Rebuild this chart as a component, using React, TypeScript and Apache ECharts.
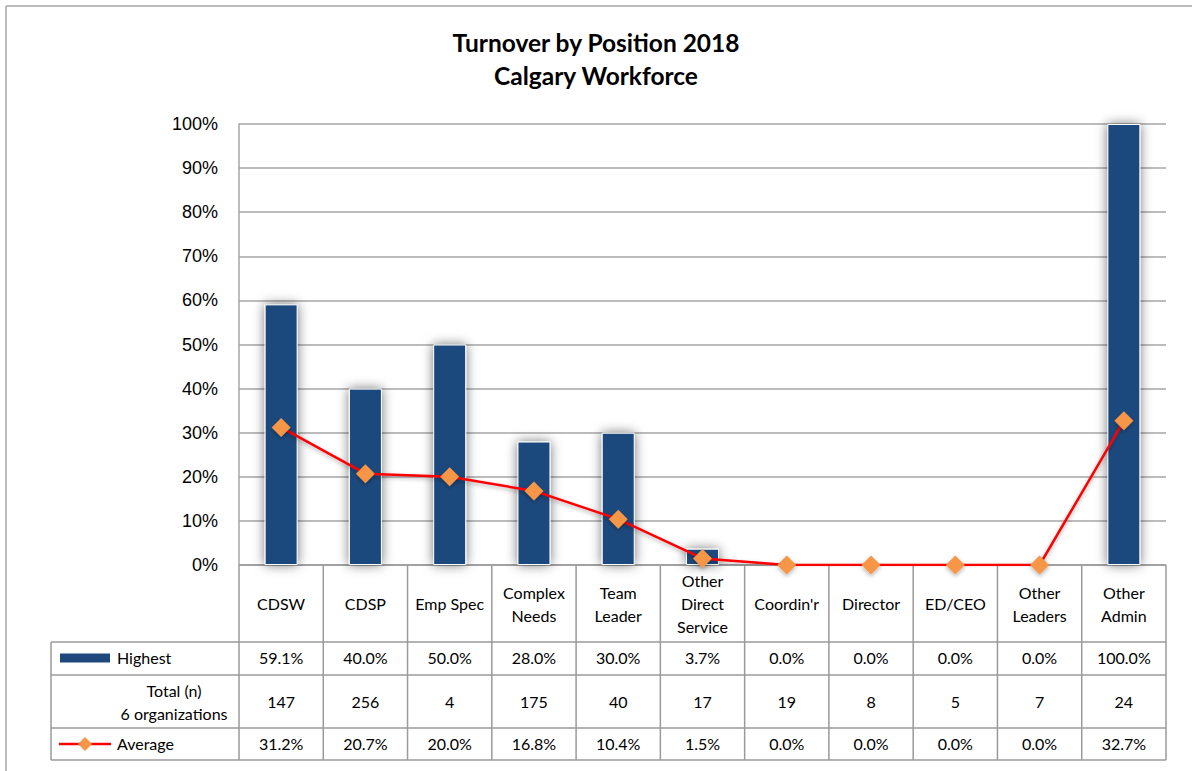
import React, { useEffect, useRef } from "react";
import * as echarts from "echarts";

const categories = [
  "CDSW",
  "CDSP",
  "Emp Spec",
  "Complex\nNeeds",
  "Team\nLeader",
  "Other\nDirect\nService",
  "Coordin'r",
  "Director",
  "ED/CEO",
  "Other\nLeaders",
  "Other\nAdmin",
];
const highest = [59.1, 40.0, 50.0, 28.0, 30.0, 3.7, 0.0, 0.0, 0.0, 0.0, 100.0];
const totals = [147, 256, 4, 175, 40, 17, 19, 8, 5, 7, 24];
const average = [31.2, 20.7, 20.0, 16.8, 10.4, 1.5, 0.0, 0.0, 0.0, 0.0, 32.7];
const yTicks = [0, 10, 20, 30, 40, 50, 60, 70, 80, 90, 100];

const titleLines = ["Turnover by Position 2018", "Calgary Workforce"];
const highestLabel = "Highest";
const totalLabel = "Total (n)\n6 organizations";
const averageLabel = "Average";

const BAR_COLOR = "#1F497D";
const LINE_COLOR = "#FF0000";
const MARK_COLOR = "#F79646";
const GRID_COLOR = "#A6A6A6";
const TABLE_FONT = "Lato";

export default function App() {
  const ref = useRef<HTMLDivElement>(null);

  useEffect(() => {
    document.body.style.margin = "0";
    const el = ref.current;
    if (!el) return;
    const chart = echarts.init(el, undefined, { renderer: "svg" });

    const option: any = {
      animation: false,
      backgroundColor: "#ffffff",
      title: {
        text: titleLines.join("\n"),
        left: "center",
        top: 21,
        textStyle: {
          fontFamily: TABLE_FONT,
          fontWeight: "bold",
          fontSize: 24.5,
          lineHeight: 33,
          color: "#000",
        },
      },
      grid: { left: 239, right: 26, top: 124, bottom: 206, containLabel: false },
      xAxis: {
        type: "category",
        data: categories,
        axisLine: { show: false },
        axisTick: { show: false },
        axisLabel: { show: false },
        splitLine: { show: false },
      },
      yAxis: {
        type: "value",
        min: 0,
        max: 100,
        interval: 10,
        axisLine: { show: true, lineStyle: { color: GRID_COLOR, width: 1.5 } },
        axisTick: { show: false },
        axisLabel: {
          formatter: (v: number) => (yTicks.includes(v) ? v + "%" : ""),
          fontFamily: "Liberation Sans",
          fontSize: 18,
          color: "#000",
          margin: 21,
        },
        splitLine: { show: true, lineStyle: { color: GRID_COLOR, width: 1.5 } },
      },
      series: [
        {
          name: highestLabel,
          type: "bar",
          data: highest,
          barWidth: 33,
          itemStyle: {
            color: BAR_COLOR,
            borderColor: "#ffffff",
            borderWidth: 1,
            shadowBlur: 12,
            shadowColor: "rgba(0,0,0,0.55)",
            shadowOffsetX: 0,
            shadowOffsetY: 0,
          },
          z: 2,
        },
        {
          name: averageLabel,
          type: "line",
          data: average,
          symbol: "diamond",
          symbolSize: 19,
          lineStyle: {
            color: LINE_COLOR,
            width: 2.5,
            shadowBlur: 4,
            shadowColor: "rgba(0,0,0,0.3)",
            shadowOffsetY: 2,
          },
          itemStyle: {
            color: MARK_COLOR,
            shadowBlur: 4,
            shadowColor: "rgba(0,0,0,0.3)",
            shadowOffsetY: 2,
          },
          z: 3,
        },
      ],
    };
    chart.setOption(option);

    // Build table from axis geometry
    const n = categories.length;
    const cx = categories.map((_, i) => chart.convertToPixel({ xAxisIndex: 0 }, i) as number);
    const cw = cx[1] - cx[0];
    const left = cx[0] - cw / 2;
    const right = cx[n - 1] + cw / 2;
    const y0 = chart.convertToPixel({ yAxisIndex: 0 }, 0) as number;
    const legendLeft = 51;
    const headerH = 77;
    const rowH = [33, 53, 32];
    const rowTop = [y0 + headerH, y0 + headerH + rowH[0], y0 + headerH + rowH[0] + rowH[1]];
    const bottom = rowTop[2] + rowH[2];

    const lineStyle = { stroke: "#9A9A9A", lineWidth: 1.5 };
    const g: any[] = [];
    // outer chart border
    g.push({ type: "line", shape: { x1: 6, y1: 6, x2: 1192, y2: 6 }, style: { stroke: "#A6A6A6", lineWidth: 1.5 } });
    g.push({ type: "line", shape: { x1: 6, y1: 6, x2: 6, y2: 771 }, style: { stroke: "#A6A6A6", lineWidth: 1.5 } });

    // vertical lines in header & rows
    for (let i = 0; i <= n; i++) {
      const x = left + i * cw;
      g.push({ type: "line", shape: { x1: x, y1: y0, x2: x, y2: bottom }, style: lineStyle });
    }
    g.push({ type: "line", shape: { x1: legendLeft, y1: rowTop[0], x2: legendLeft, y2: bottom }, style: lineStyle });
    // horizontal lines
    g.push({ type: "line", shape: { x1: left, y1: y0, x2: right, y2: y0 }, style: lineStyle });
    [rowTop[0], rowTop[1], rowTop[2], bottom].forEach((y) => {
      g.push({ type: "line", shape: { x1: legendLeft, y1: y, x2: right, y2: y }, style: lineStyle });
    });

    const textStyle = (text: string, x: number, y: number, align = "center") => ({
      type: "text",
      x,
      y,
      style: {
        text,
        fontFamily: TABLE_FONT,
        fontSize: 16,
        lineHeight: 23,
        fill: "#000",
        align,
        verticalAlign: "middle",
      },
    });

    categories.forEach((c, i) => {
      g.push(textStyle(c, cx[i], y0 + headerH / 2));
      g.push(textStyle(highest[i].toFixed(1) + "%", cx[i], rowTop[0] + rowH[0] / 2 - 1));
      g.push(textStyle(String(totals[i]), cx[i], rowTop[1] + rowH[1] / 2));
      g.push(textStyle(average[i].toFixed(1) + "%", cx[i], rowTop[2] + rowH[2] / 2 - 1));
    });

    // legend cells
    const r0 = rowTop[0] + rowH[0] / 2;
    g.push({ type: "rect", shape: { x: 60, y: r0 - 5, width: 50, height: 9 }, style: { fill: BAR_COLOR } });
    g.push(textStyle(highestLabel, 117, r0 - 1, "left"));
    g.push(textStyle(totalLabel, 174, rowTop[1] + rowH[1] / 2));
    const r2 = rowTop[2] + rowH[2] / 2;
    g.push({ type: "line", shape: { x1: 59, y1: r2, x2: 111, y2: r2 }, style: { stroke: LINE_COLOR, lineWidth: 2.5 } });
    g.push({
      type: "polygon",
      shape: { points: [[85, r2 - 7], [92, r2], [85, r2 + 7], [78, r2]] },
      style: { fill: MARK_COLOR },
    });
    g.push(textStyle(averageLabel, 117, r2 - 1, "left"));

    chart.setOption({ graphic: g });

    return () => chart.dispose();
  }, []);

  return <div ref={ref} style={{ width: 1192, height: 771 }} />;
}
